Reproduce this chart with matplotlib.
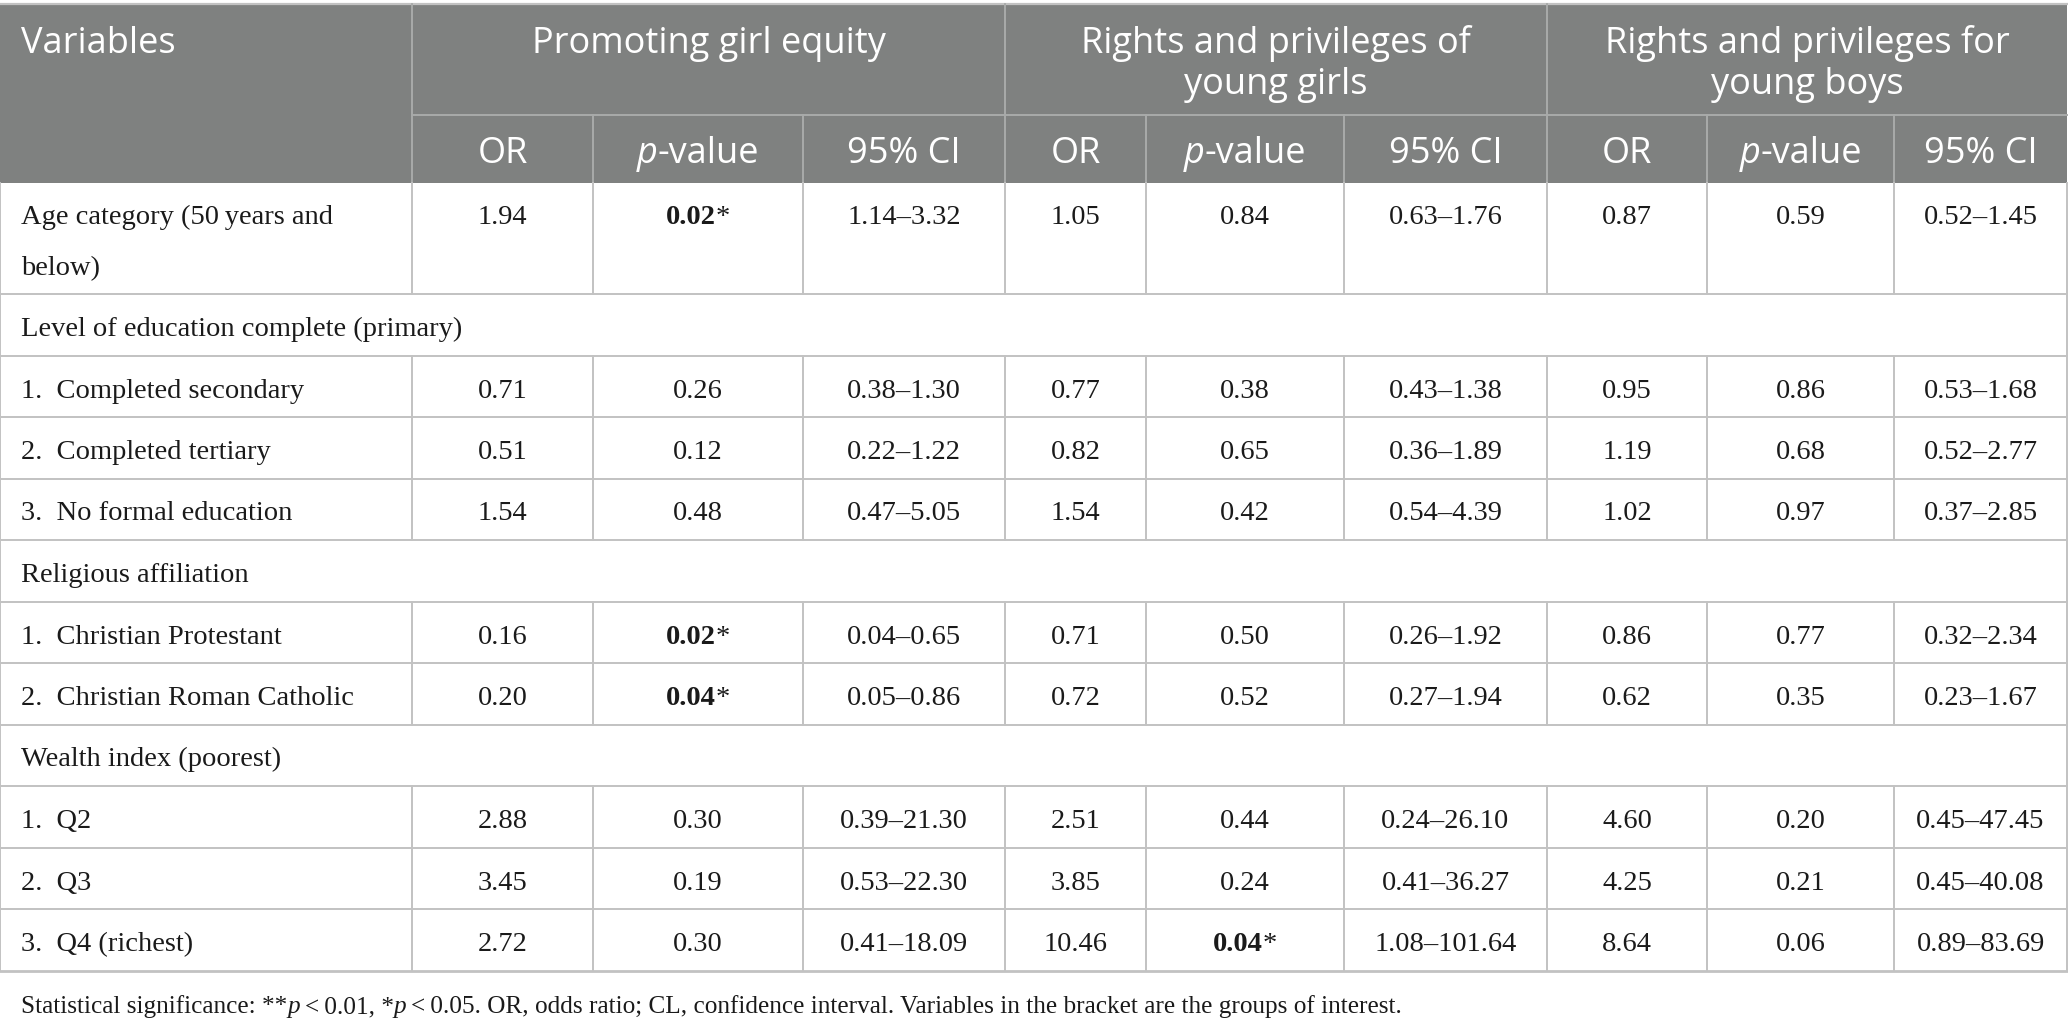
import matplotlib
matplotlib.use("Agg")
import matplotlib.pyplot as plt
from matplotlib.patches import Rectangle

# ---- table content -------------------------------------------------------
groups = ["Promoting girl equity", "Rights and privileges of\nyoung girls",
          "Rights and privileges for\nyoung boys"]
sub_cols = ["OR", "p-value", "95% CI"]

labels = ["Age category (50\u2009years and\nbelow)",
          "Level of education complete (primary)",
          "1.  Completed secondary", "2.  Completed tertiary", "3.  No formal education",
          "Religious affiliation",
          "1.  Christian Protestant", "2.  Christian Roman Catholic",
          "Wealth index (poorest)",
          "1.  Q2", "2.  Q3", "3.  Q4 (richest)"]
section = [False, True, False, False, False, True, False, False, True, False, False, False]

# values per outcome; None = section heading row, trailing "*" = significant (bold)
or_girl_equity = ["1.94", None, "0.71", "0.51", "1.54", None, "0.16", "0.20", None, "2.88", "3.45", "2.72"]
p_girl_equity = ["0.02*", None, "0.26", "0.12", "0.48", None, "0.02*", "0.04*", None, "0.30", "0.19", "0.30"]
ci_girl_equity = ["1.14\u20133.32", None, "0.38\u20131.30", "0.22\u20131.22", "0.47\u20135.05", None,
                  "0.04\u20130.65", "0.05\u20130.86", None, "0.39\u201321.30", "0.53\u201322.30", "0.41\u201318.09"]
or_girls = ["1.05", None, "0.77", "0.82", "1.54", None, "0.71", "0.72", None, "2.51", "3.85", "10.46"]
p_girls = ["0.84", None, "0.38", "0.65", "0.42", None, "0.50", "0.52", None, "0.44", "0.24", "0.04*"]
ci_girls = ["0.63\u20131.76", None, "0.43\u20131.38", "0.36\u20131.89", "0.54\u20134.39", None,
            "0.26\u20131.92", "0.27\u20131.94", None, "0.24\u201326.10", "0.41\u201336.27", "1.08\u2013101.64"]
or_boys = ["0.87", None, "0.95", "1.19", "1.02", None, "0.86", "0.62", None, "4.60", "4.25", "8.64"]
p_boys = ["0.59", None, "0.86", "0.68", "0.97", None, "0.77", "0.35", None, "0.20", "0.21", "0.06"]
ci_boys = ["0.52\u20131.45", None, "0.53\u20131.68", "0.52\u20132.77", "0.37\u20132.85", None,
           "0.32\u20132.34", "0.23\u20131.67", None, "0.45\u201347.45", "0.45\u201340.08", "0.89\u201383.69"]
value_cols = [or_girl_equity, p_girl_equity, ci_girl_equity,
              or_girls, p_girls, ci_girls, or_boys, p_boys, ci_boys]

footnote = ("Statistical significance: **", "p", "\u2009<\u20090.01, *", "p",
            "\u2009<\u20090.05. OR, odds ratio; CL, confidence interval. "
            "Variables in the bracket are the groups of interest.")

# ---- layout (pixels) -----------------------------------------------------
W, H = 2068, 1026
col_edges = [0, 412, 593, 803, 1005, 1146, 1344, 1547, 1707, 1894, 2067]
row_h = [111] + [61.5] * 11
top, head_mid, head_bot = 4, 115, 183
HEAD_BG = "#7f8180"
HEAD_LINE = "#a9abaa"
GRID = "#c2c2c2"
SANS = "Open Sans"
SERIF = "Liberation Serif"
HEAD_FS = 26
BODY_FS = 20.5
FOOT_FS = 18.2

fig = plt.figure(figsize=(W / 100, H / 100), dpi=100)
ax = fig.add_axes([0, 0, 1, 1])
ax.set_xlim(0, W)
ax.set_ylim(H, 0)
ax.axis("off")
renderer = fig.canvas.get_renderer()


def runs(x, y, parts, ha="center"):
    """Draw consecutive text pieces with their own fonts as one line."""
    ts = [ax.text(0, y, s, ha="left", va="baseline", **kw) for s, kw in parts]
    ws = [t.get_window_extent(renderer).width for t in ts]
    x0 = x - sum(ws) / 2 if ha == "center" else x
    for t, w in zip(ts, ws):
        t.set_x(x0)
        x0 += w


# header block
ax.add_patch(Rectangle((0, top), col_edges[-1], head_bot - top, color=HEAD_BG, lw=0))
hdr = dict(family=SANS, color="white", fontsize=HEAD_FS)
ax.text(21, 53, "Variables", ha="left", va="baseline", **hdr)
for g in range(3):
    x0, x1 = col_edges[1 + 3 * g], col_edges[4 + 3 * g]
    for k, ln in enumerate(groups[g].split("\n")):
        ax.text((x0 + x1) / 2, 53 + 41 * k, ln, ha="center", va="baseline", **hdr)
    for j, name in enumerate(sub_cols):
        c = 1 + 3 * g + j
        xc = (col_edges[c] + col_edges[c + 1]) / 2
        if name == "p-value":
            runs(xc, 163, [("p", {**hdr, "style": "italic"}), ("-value", hdr)])
        else:
            ax.text(xc, 163, name, ha="center", va="baseline", **hdr)

# header lines
ax.plot([0, col_edges[-1]], [top, top], color=GRID, lw=1.6)
ax.plot([col_edges[1], col_edges[-1]], [head_mid, head_mid], color=HEAD_LINE, lw=1.4)
for x in col_edges[1:-1]:
    y0 = top if x in (col_edges[1], col_edges[4], col_edges[7]) else head_mid
    ax.plot([x, x], [y0, head_bot], color=HEAD_LINE, lw=1.4)

# body
body = dict(family=SERIF, color="#1a1a1a", fontsize=BODY_FS)
y = head_bot
for i, lab in enumerate(labels):
    h = row_h[i]
    yb = y + 41 if "\n" in lab else y + 42
    for k, ln in enumerate(lab.split("\n")):
        ax.text(21, yb + 51 * k, ln, ha="left", va="baseline", **body)
    if not section[i]:
        for c, vals in enumerate(value_cols):
            v = vals[i]
            xc = (col_edges[c + 1] + col_edges[c + 2]) / 2
            if v.endswith("*"):
                runs(xc, yb, [(v[:-1], {**body, "weight": "bold"}), ("*", body)])
            else:
                ax.text(xc, yb, v, ha="center", va="baseline", **body)
        for x in col_edges[1:-1]:
            ax.plot([x, x], [y, y + h], color=GRID, lw=1.4)
    ax.plot([0, 0], [y, y + h], color=GRID, lw=1.4)
    ax.plot([col_edges[-1]] * 2, [y, y + h], color=GRID, lw=1.4)
    y += h
    ax.plot([0, col_edges[-1]], [y, y], color=GRID, lw=2.0 if i == len(labels) - 1 else 1.4)

# footnote
foot = dict(family=SERIF, color="#1a1a1a", fontsize=FOOT_FS)
ital = {**foot, "style": "italic"}
runs(21, 1013, [(s, ital if s == "p" else foot) for s in footnote], ha="left")

fig.savefig("out.png", dpi=100)
